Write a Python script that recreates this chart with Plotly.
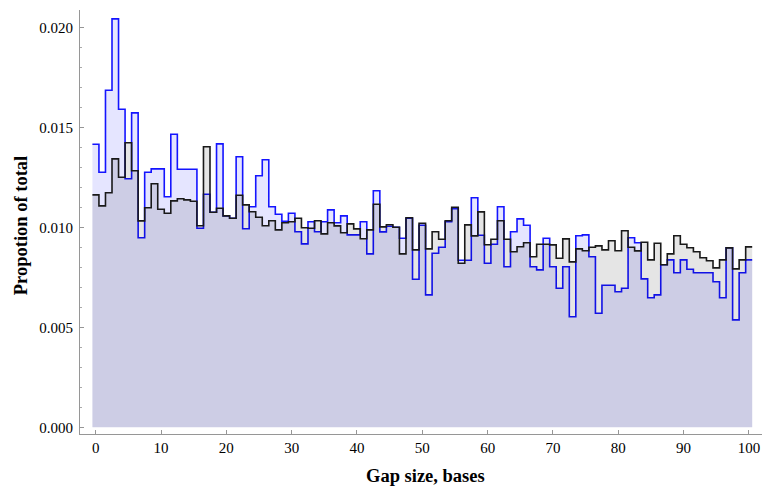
import plotly.graph_objects as go

# Gap size bins (0..100, width 1)
gap_sizes = list(range(0, 101))

blue_values = [
    0.01415, 0.01275, 0.01685, 0.02042, 0.01590, 0.01243, 0.01572, 0.00948, 0.01275, 0.01292,
    0.01292, 0.01153, 0.01465, 0.01290, 0.01290, 0.01290, 0.00995, 0.01165, 0.01075, 0.01417,
    0.01057, 0.01045, 0.01353, 0.00993, 0.01103, 0.01258, 0.01338, 0.01103, 0.01065, 0.01030,
    0.01070, 0.00978, 0.00917, 0.01028, 0.00978, 0.01028, 0.01087, 0.01023, 0.01057, 0.00962,
    0.00962, 0.01028, 0.00867, 0.01183, 0.00977, 0.01005, 0.01000, 0.00945, 0.01045, 0.00740,
    0.01010, 0.00662, 0.00870, 0.00900, 0.01028, 0.01093, 0.00835, 0.00835, 0.01148, 0.00960,
    0.00820, 0.00915, 0.01103, 0.00803, 0.00978, 0.01042, 0.01010, 0.00803, 0.00787, 0.00945,
    0.00803, 0.00695, 0.00803, 0.00553, 0.00958, 0.00962, 0.00853, 0.00570, 0.00710, 0.00710,
    0.00678, 0.00695, 0.00948, 0.00923, 0.00742, 0.00648, 0.00662, 0.00813, 0.00837, 0.00773,
    0.00837, 0.00790, 0.00773, 0.00773, 0.00773, 0.00728, 0.00648, 0.00898, 0.00537, 0.00773,
    0.00837,
]

black_values = [
    0.01162, 0.01107, 0.01173, 0.01342, 0.01250, 0.01423, 0.01283, 0.01032, 0.01098, 0.01218,
    0.01090, 0.01070, 0.01132, 0.01143, 0.01137, 0.01130, 0.01008, 0.01403, 0.01075, 0.01095,
    0.01057, 0.01045, 0.01160, 0.01112, 0.01078, 0.01050, 0.01008, 0.01033, 0.00987, 0.01023,
    0.01028, 0.01045, 0.00998, 0.00995, 0.01033, 0.00967, 0.01023, 0.01007, 0.00973, 0.01017,
    0.00992, 0.00943, 0.00987, 0.01115, 0.01002, 0.01013, 0.01000, 0.00867, 0.01048, 0.00887,
    0.01020, 0.00892, 0.00978, 0.00940, 0.01033, 0.01100, 0.00820, 0.01012, 0.00957, 0.01077,
    0.00913, 0.00940, 0.01033, 0.00940, 0.00878, 0.00903, 0.00923, 0.00853, 0.00915, 0.00915,
    0.00912, 0.00845, 0.00942, 0.00827, 0.00892, 0.00883, 0.00900, 0.00907, 0.00887, 0.00933,
    0.00883, 0.00983, 0.00900, 0.00882, 0.00925, 0.00837, 0.00920, 0.00813, 0.00867, 0.00958,
    0.00915, 0.00898, 0.00878, 0.00848, 0.00833, 0.00797, 0.00837, 0.00897, 0.00792, 0.00837,
    0.00902,
]

y_tick_vals = [0.000, 0.005, 0.010, 0.015, 0.020]
x_tick_vals = [0, 10, 20, 30, 40, 50, 60, 70, 80, 90, 100]
x_title = "Gap size, bases"
y_title = "Propotion of total"

# bin edges for step outline
edges = [g - 0.5 for g in gap_sizes] + [gap_sizes[-1] + 0.5]


def step_y(vals):
    return list(vals) + [vals[-1]]


SERIF = "Liberation Serif, Times New Roman, serif"
AXC = "rgb(150,150,150)"

fig = go.Figure()
fig.add_trace(go.Scatter(
    x=edges, y=step_y(blue_values), mode="lines", line_shape="hv",
    line=dict(color="rgb(20,20,255)", width=1.6),
    fill="tozeroy", fillcolor="rgba(0,0,255,0.10)", hoverinfo="skip", showlegend=False,
))
fig.add_trace(go.Scatter(
    x=edges, y=step_y(black_values), mode="lines", line_shape="hv",
    line=dict(color="rgb(25,25,25)", width=1.6),
    fill="tozeroy", fillcolor="rgba(0,0,0,0.10)", hoverinfo="skip", showlegend=False,
))

fig.update_layout(
    width=762, height=487,
    margin=dict(l=80, r=0, t=10, b=53, autoexpand=False),
    plot_bgcolor="white", paper_bgcolor="white",
    font=dict(family=SERIF, size=15, color="black"),
    annotations=[
        dict(text=x_title, xref="paper", yref="paper", x=0.506, y=0.0, yshift=-42,
             showarrow=False, xanchor="center", yanchor="middle",
             font=dict(family=SERIF, size=18.5, weight="bold")),
        dict(text=y_title, xref="paper", yref="paper", x=0.0, xshift=-59, y=0.49,
             showarrow=False, xanchor="center", yanchor="middle", textangle=-90,
             font=dict(family=SERIF, size=18.5, weight="bold")),
    ],
)
fig.update_xaxes(
    range=[-2.4, 102.0], tickvals=x_tick_vals, ticks="inside", ticklen=4,
    tickcolor=AXC, showline=True, linecolor=AXC, linewidth=1, automargin=False,
    showgrid=False, zeroline=False, tickfont=dict(family=SERIF, size=15),
)
fig.update_yaxes(
    range=[-0.000335, 0.020865], tickvals=y_tick_vals, tickformat=".3f", ticks="inside", ticklen=4,
    tickcolor=AXC, showline=True, linecolor=AXC, linewidth=1, automargin=False,
    showgrid=False, zeroline=False, tickfont=dict(family=SERIF, size=15), ticklabelstandoff=3,
    minor=dict(dtick=0.001, ticks="inside", ticklen=2, tickcolor="rgb(170,170,170)", showgrid=False),
)

fig.write_html(
    "out.html",
    config={"displayModeBar": False},
    post_script="document.body.style.margin='0px';document.body.style.padding='0px';",
)
